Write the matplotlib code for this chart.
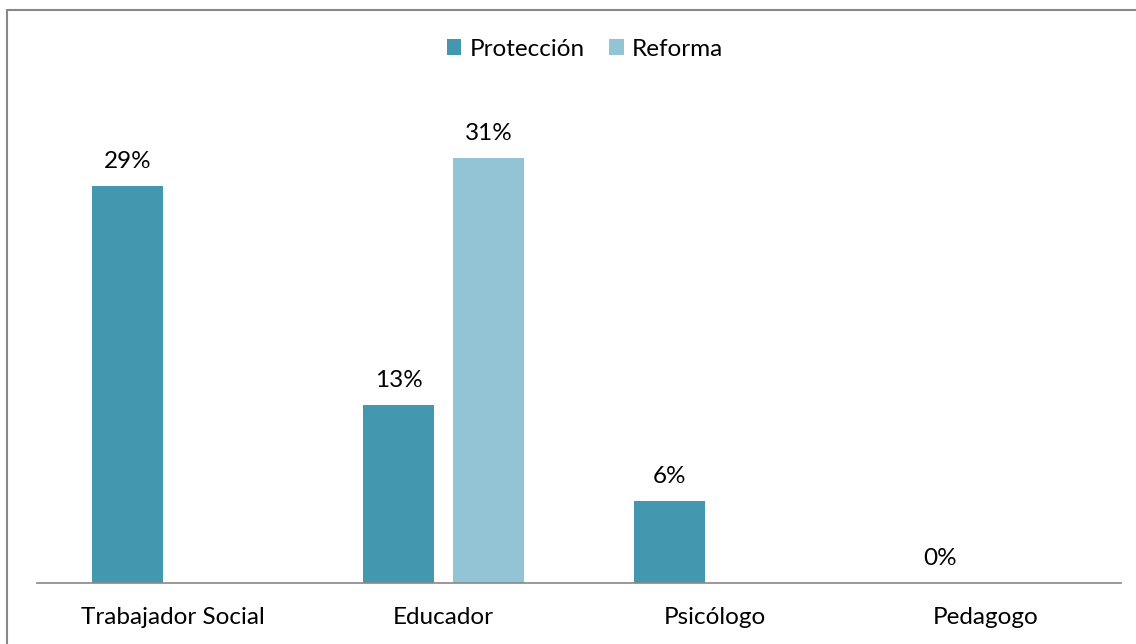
import numpy as np
import matplotlib
matplotlib.use('Agg')
from matplotlib import pyplot as plt
from matplotlib.patches import Rectangle

# datos del gráfico
categorias = ['Trabajador Social', 'Educador', 'Psicólogo', 'Pedagogo']
proteccion = [0.29, 0.13, 0.06, 0.0]
reforma = [np.nan, 0.31, np.nan, np.nan]
series = ['Protección', 'Reforma']

col_prot = '#4398B0'
col_ref = '#93C4D5'

plt.rcParams['font.family'] = ['Lato', 'DejaVu Sans']
fs = 17.5

W, H = 1136, 644
fig = plt.figure(figsize=(W / 100, H / 100), dpi=100)

# marco exterior del gráfico (se corta por la derecha y por abajo)
fig.patches.append(Rectangle((7 / W, -0.05), 1.2, 1 - 10 / H + 0.05,
                             transform=fig.transFigure, fill=False,
                             edgecolor='#888888', linewidth=1.5))

ymax = 0.35
px_por_unidad = 1370  # px por 1.0 (100%)
ax_h = ymax * px_por_unidad
ax = fig.add_axes([37 / W, (H - 583) / H, (1121 - 37) / W, ax_h / H])

x = np.arange(len(categorias))
ancho = 0.265
off = 0.166
b1 = ax.bar(x - off, proteccion, ancho, color=col_prot, label=series[0])
b2 = ax.bar(x + off, reforma, ancho, color=col_ref, label=series[1])

for barras, vals in [(b1, proteccion), (b2, reforma)]:
    for r, v in zip(barras, vals):
        if np.isnan(v):
            continue
        ax.annotate('{:.0%}'.format(v), (r.get_x() + r.get_width() / 2, v),
                    xytext=(0, 10), textcoords='offset points',
                    ha='center', va='bottom', fontsize=fs, color='black')

ax.set_xlim(-0.5, len(categorias) - 0.5)
ax.set_ylim(0, ymax)
ax.set_xticks(x)
ax.set_xticklabels(categorias, fontsize=fs)
ax.tick_params(axis='x', length=0, pad=17)
ax.set_yticks([])
for s in ['top', 'right', 'left']:
    ax.spines[s].set_visible(False)
ax.spines['bottom'].set_color('#888888')
ax.spines['bottom'].set_linewidth(1.2)

fig.legend(handles=[b1, b2], labels=series, loc='center',
           bbox_to_anchor=(585 / W, 1 - 49 / H), ncol=2, frameon=False,
           fontsize=fs, handlelength=0.6, handleheight=0.6,
           handletextpad=0.35, columnspacing=1.0)

fig.savefig('out.png', dpi=100)
